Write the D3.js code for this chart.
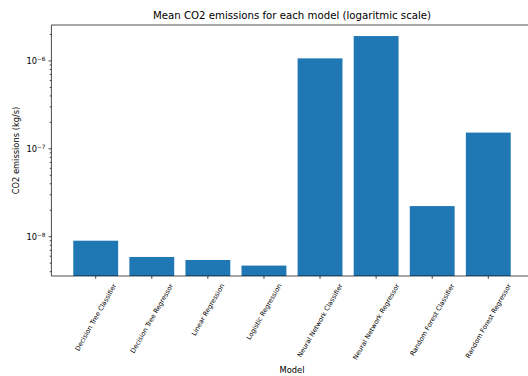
<!DOCTYPE html>
<html>
<head>
<meta charset="utf-8">
<script src="https://cdn.jsdelivr.net/npm/d3@7"></script>
<style>
  body { margin: 0; background: #fff; }
  text { font-family: "DejaVu Sans", sans-serif; fill: #000; }
</style>
</head>
<body>
<svg id="chart" width="528" height="376"></svg>
<script>
// data
var models = ["Decision Tree Classifier", "Decision Tree Regressor", "Linear Regression",
    "Logistic Regression", "Neural Network Classifier", "Neural Network Regressor",
    "Random Forest Classifier", "Random Forest Regressor"];
var emissions = [9.0e-9, 5.88e-9, 5.43e-9, 4.69e-9, 1.07e-6, 1.92e-6, 2.23e-8, 1.53e-7];
var majorTicks = [1e-8, 1e-7, 1e-6];
var yDomain = [3.57e-9, 2.565e-6];

var svg = d3.select("#chart");
// plot box (note: "top" is reserved on window, so use plotTop)
var plotLeft = 51.4, plotRight = 532.6, plotTop = 25, plotBottom = 276;
var majorLen = 2.9, minorLen = 1.7, lw = 0.7;

var x = d3.scaleLinear().domain([-0.79, models.length - 1 + 0.79]).range([plotLeft, plotRight]);
var y = d3.scaleLog().domain(yDomain).range([plotBottom, plotTop]);

// bars
svg.selectAll("rect.bar")
    .data(emissions)
    .enter().append("rect")
        .attr("class", "bar")
        .attr("x", function(d, i) { return x(i - 0.4); })
        .attr("width", function(d, i) { return x(i + 0.4) - x(i - 0.4); })
        .attr("y", function(d) { return y(d); })
        .attr("height", function(d) { return plotBottom - y(d); })
        .attr("fill", "#1f77b4");

// minor ticks
var minor = [];
for (var e = -9; e <= -6; e++) {
    for (var k = 2; k <= 9; k++) {
        var v = k * Math.pow(10, e);
        if (v >= yDomain[0] && v <= yDomain[1]) minor.push(v);
    }
}
svg.selectAll("line.minor")
    .data(minor)
    .enter().append("line")
        .attr("x1", plotLeft - minorLen).attr("x2", plotLeft)
        .attr("y1", function(d) { return y(d); })
        .attr("y2", function(d) { return y(d); })
        .attr("stroke", "#000").attr("stroke-width", lw);

// major ticks + labels
var yt = svg.selectAll("g.ytick")
    .data(majorTicks)
    .enter().append("g")
        .attr("transform", function(d) { return "translate(0," + y(d) + ")"; });
yt.append("line")
    .attr("x1", plotLeft - majorLen).attr("x2", plotLeft)
    .attr("stroke", "#000").attr("stroke-width", lw);
var ylab = yt.append("text")
    .attr("x", plotLeft - majorLen - 3)
    .attr("dy", "0.35em")
    .attr("text-anchor", "end")
    .style("font-size", "8.3px");
ylab.append("tspan").text("10");
ylab.append("tspan")
    .attr("dy", "-0.45em")
    .style("font-size", "5.8px")
    .text(function(d) { return "\u2212" + Math.round(-Math.log10(d)); });

// x ticks
var fs = 6.6, asc = 0.93 * fs, desc = 0.24 * fs;
svg.selectAll("line.xtick")
    .data(models)
    .enter().append("line")
        .attr("x1", function(d, i) { return x(i); })
        .attr("x2", function(d, i) { return x(i); })
        .attr("y1", plotBottom).attr("y2", plotBottom + majorLen)
        .attr("stroke", "#000").attr("stroke-width", lw);

svg.selectAll("text.xlab")
    .data(models)
    .enter().append("text")
        .attr("class", "xlab")
        .attr("text-anchor", "end")
        .style("font-size", fs + "px")
        .text(function(d) { return d; })
        .each(function(d, i) {
            var w = this.getComputedTextLength();
            var cx = (-0.5 * w - 0.866 * asc + 0.866 * desc) / 2;
            var px = x(i) - cx;
            var py = plotBottom + majorLen + 3.5 + 0.5 * asc;
            d3.select(this).attr("transform", "translate(" + px + "," + py + ") rotate(-60)");
        });

// spines
svg.append("line").attr("x1", plotLeft).attr("x2", plotLeft).attr("y1", plotTop).attr("y2", plotBottom)
    .attr("stroke", "#000").attr("stroke-width", lw);
svg.append("line").attr("x1", plotLeft).attr("x2", plotRight).attr("y1", plotBottom).attr("y2", plotBottom)
    .attr("stroke", "#000").attr("stroke-width", lw);
svg.append("line").attr("x1", plotLeft).attr("x2", plotRight).attr("y1", plotTop).attr("y2", plotTop)
    .attr("stroke", "#000").attr("stroke-width", lw);
svg.append("line").attr("x1", plotRight).attr("x2", plotRight).attr("y1", plotTop).attr("y2", plotBottom)
    .attr("stroke", "#000").attr("stroke-width", lw);

// title and axis labels
svg.append("text")
    .attr("x", (plotLeft + plotRight) / 2).attr("y", plotTop - 6)
    .attr("text-anchor", "middle")
    .style("font-size", "10.2px")
    .text("Mean CO2 emissions for each model (logaritmic scale)");

svg.append("text")
    .attr("x", (plotLeft + plotRight) / 2).attr("y", 373)
    .attr("text-anchor", "middle")
    .style("font-size", "8.3px")
    .text("Model");

svg.append("text")
    .attr("transform", "translate(19," + (plotTop + plotBottom) / 2 + ") rotate(-90)")
    .attr("text-anchor", "middle")
    .style("font-size", "8.3px")
    .text("CO2 emissions (kg/s)");
</script>
</body>
</html>
